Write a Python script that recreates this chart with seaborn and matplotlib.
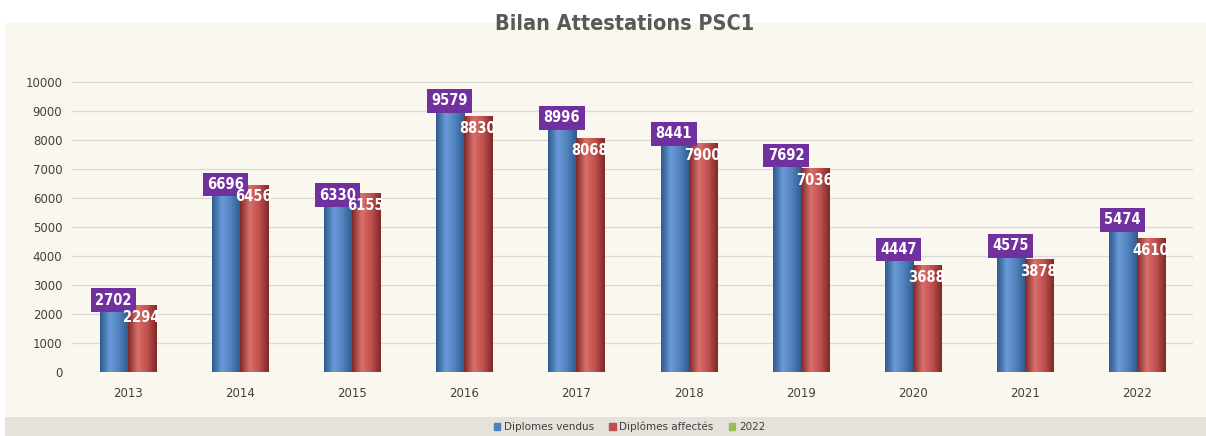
import matplotlib
matplotlib.use("Agg")
import matplotlib.pyplot as plt
import matplotlib.patches as mpatches
from matplotlib.colors import LinearSegmentedColormap
import numpy as np
import pandas as pd
import seaborn as sns

years   = ["2013", "2014", "2015", "2016", "2017", "2018", "2019", "2020", "2021", "2022"]
vendus  = [2702, 6696, 6330, 9579, 8996, 8441, 7692, 4447, 4575, 5474]
affect  = [2294, 6456, 6155, 8830, 8068, 7900, 7036, 3688, 3878, 4610]
series  = ["Diplomes vendus", "Diplômes affectés", "2022"]
colors  = ["#4F81BD", "#C0504D", "#9BBB59"]

df = pd.DataFrame({
    "year": years * 2,
    "value": vendus + affect,
    "serie": [series[0]] * len(years) + [series[1]] * len(years),
})

sns.set_style("white")
plt.rcParams["font.family"] = ["DejaVu Sans"]

fig = plt.figure(figsize=(12.06, 4.36), dpi=100)
fig.patch.set_facecolor("white")
# chart area background + legend strip
fig.add_artist(mpatches.Rectangle((0.004, 0.043), 0.996, 0.905, transform=fig.transFigure,
                                  facecolor="#FAF8EE", edgecolor="none", zorder=0))
fig.add_artist(mpatches.Rectangle((0.004, 0.0), 0.996, 0.043, transform=fig.transFigure,
                                  facecolor="#E4E2DA", edgecolor="none", zorder=0))

ax = fig.add_axes([0.0597, 0.147, 0.9295, 0.705])
ax.set_facecolor("none")

sns.barplot(data=df, x="year", y="value", hue="serie", palette=colors[:2],
            width=0.5, dodge=True, ax=ax, legend=False, saturation=1)

# cylinder-ish shading
shade = {colors[0]: ["#2E5A8C", "#6A9BD6", "#4F81BD", "#2E5A8C"],
         colors[1]: ["#7E2A28", "#D9706C", "#C0504D", "#7E2A28"]}
for i, p in enumerate(list(ax.patches)):
    col = colors[0] if i < len(years) else colors[1]
    x0, y0 = p.get_x(), p.get_y()
    w, h = p.get_width(), p.get_height()
    cmap = LinearSegmentedColormap.from_list("c", shade[col])
    grad = np.linspace(0, 1, 64).reshape(1, -1)
    im = ax.imshow(grad, cmap=cmap, aspect="auto", extent=[x0, x0 + w, y0, y0 + h],
                   zorder=2)
    im.set_clip_path(p)
    p.set_edgecolor("none")

ax.set_xlim(-0.5, 9.5)
ax.set_ylim(0, 10600)
ax.set_yticks(range(0, 10001, 1000))
ax.yaxis.grid(True, color="#D9D9D9", lw=1)
ax.set_axisbelow(True)
for s in ax.spines.values():
    s.set_visible(False)
ax.tick_params(axis="y", length=0, labelsize=8.5, labelcolor="#404040", pad=7)
ax.tick_params(axis="x", length=0, labelsize=8.5, labelcolor="#404040", pad=11)
ax.set_xlabel("")
ax.set_ylabel("")

# data labels
for i, (v, a) in enumerate(zip(vendus, affect)):
    ax.text(i - 0.13, v - 230, str(v), ha="center", va="center", color="white",
            fontsize=10.5, fontweight="bold", fontstretch="condensed", zorder=5,
            bbox=dict(boxstyle="square,pad=0.3", fc="#7030A0", ec="none"))
    ax.text(i + 0.12, a - 420, str(a), ha="center", va="center", color="white",
            fontsize=10.5, fontweight="bold", fontstretch="condensed", zorder=5)

fig.text(0.518, 0.945, "Bilan Attestations PSC1", ha="center", va="center",
         fontsize=15.5, fontweight="bold", fontstretch="condensed", color="#595959")

handles = [mpatches.Patch(color=c, label=s) for c, s in zip(colors, series)]
fig.legend(handles=handles, loc="center", bbox_to_anchor=(0.522, 0.021), ncol=3,
           frameon=False, fontsize=7.5, handlelength=0.6, handleheight=0.6,
           columnspacing=1.5, handletextpad=0.35, labelcolor="#404040")

fig.savefig("out.png", dpi=100)
